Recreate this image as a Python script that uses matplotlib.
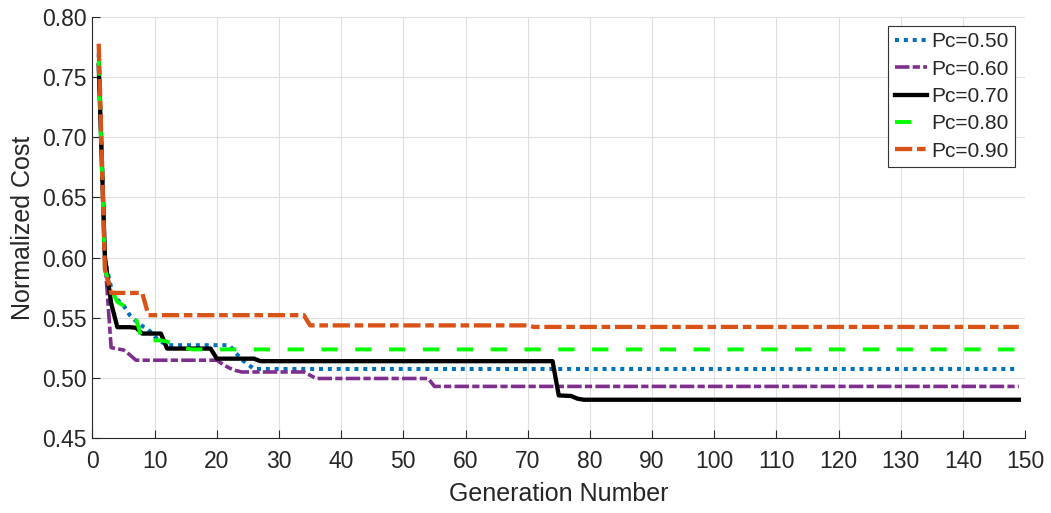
import matplotlib.pyplot as plt
import numpy as np

# ===== Data (breakpoints of each convergence curve) =====
gen_050 = [1, 2, 3, 4, 5, 6, 7, 8, 9, 10, 11, 12, 22, 23, 24, 25, 26, 149]
cost_050 = [0.770, 0.598, 0.575, 0.565, 0.560, 0.552, 0.547, 0.543, 0.540, 0.534,
            0.530, 0.527, 0.527, 0.521, 0.515, 0.511, 0.5072, 0.5072]

gen_060 = [1, 2, 3, 5, 6, 7, 20, 21, 22, 23, 24, 34, 35, 36, 54, 55, 149]
cost_060 = [0.768, 0.598, 0.525, 0.523, 0.519, 0.5145, 0.5145, 0.511, 0.508, 0.506,
            0.5047, 0.5047, 0.502, 0.4993, 0.4993, 0.4927, 0.4927]

gen_070 = [1, 2, 3, 4, 6, 7, 8, 11, 12, 19, 20, 26, 27, 74, 75, 77, 78, 79, 149]
cost_070 = [0.760, 0.600, 0.562, 0.542, 0.542, 0.5415, 0.5367, 0.5367, 0.5242, 0.5242,
            0.5158, 0.5158, 0.5137, 0.5137, 0.4852, 0.4847, 0.4825, 0.4816, 0.4816]

gen_080 = [1, 2, 3, 4, 5, 6, 7, 8, 11, 12, 13, 14, 15, 16, 149]
cost_080 = [0.765, 0.590, 0.574, 0.563, 0.560, 0.556, 0.549, 0.531, 0.531, 0.530,
            0.528, 0.526, 0.5245, 0.5235, 0.5235]

gen_090 = [1, 2, 3, 8, 9, 34, 35, 70, 71, 149]
cost_090 = [0.778, 0.590, 0.5705, 0.5705, 0.552, 0.552, 0.5435, 0.5435, 0.5422, 0.5422]

labels = ['Pc=0.50', 'Pc=0.60', 'Pc=0.70', 'Pc=0.80', 'Pc=0.90']

plt.rcParams['font.family'] = ['Liberation Sans', 'DejaVu Sans']
txt = '#262626'

fig = plt.figure(figsize=(10.51, 5.13), dpi=100)
ax = fig.add_axes([0.088, 0.1468, 0.8873, 0.8195])

ax.plot(gen_050, cost_050, color='#0072BD', lw=2.9, dashes=(1.0, 1.2),
        dash_capstyle='butt', label=labels[0])
ax.plot(gen_060, cost_060, color='#7E2F8E', lw=2.6, dashes=(4.0, 0.9, 2.0, 0.9),
        dash_capstyle='butt', label=labels[1])
ax.plot(gen_070, cost_070, color='black', lw=3.1, label=labels[2])
ax.plot(gen_080, cost_080, color='#00FF00', lw=2.8, dashes=(4.2, 4.5),
        dash_capstyle='butt', label=labels[3])
ax.plot(gen_090, cost_090, color='#D95319', lw=3.1, dashes=(4.0, 1.1, 2.0, 1.1),
        dash_capstyle='butt', label=labels[4])

ax.set_xlim(0, 150)
ax.set_ylim(0.45, 0.80)
ax.set_xticks(np.arange(0, 151, 10))
ax.set_yticks(np.arange(0.45, 0.801, 0.05))
ax.set_yticklabels([f'{v:.2f}' for v in np.arange(0.45, 0.801, 0.05)])

ax.grid(True, color='#dfdfdf', lw=0.8)
ax.set_axisbelow(True)
for s in ['top', 'right']:
    ax.spines[s].set_visible(False)
for s in ['left', 'bottom']:
    ax.spines[s].set_color(txt)
    ax.spines[s].set_linewidth(0.8)

ax.tick_params(axis='both', direction='in', length=6, width=0.8, color=txt,
               labelcolor=txt, labelsize=16.5)
ax.tick_params(axis='x', pad=9)
ax.tick_params(axis='y', pad=4)

ax.set_xlabel('Generation Number', fontsize=18, color=txt, labelpad=6)
ax.set_ylabel('Normalized Cost', fontsize=18, color=txt, labelpad=5)

leg = ax.legend(loc='upper right', bbox_to_anchor=(0.989, 0.979), borderaxespad=0,
                fontsize=15, fancybox=False, framealpha=1, edgecolor='#333333',
                handlelength=1.55, handletextpad=0.2, borderpad=0.3, labelspacing=0.4)
leg.get_frame().set_linewidth(0.8)
for t in leg.get_texts():
    t.set_color(txt)

fig.savefig('out.png', dpi=100)
